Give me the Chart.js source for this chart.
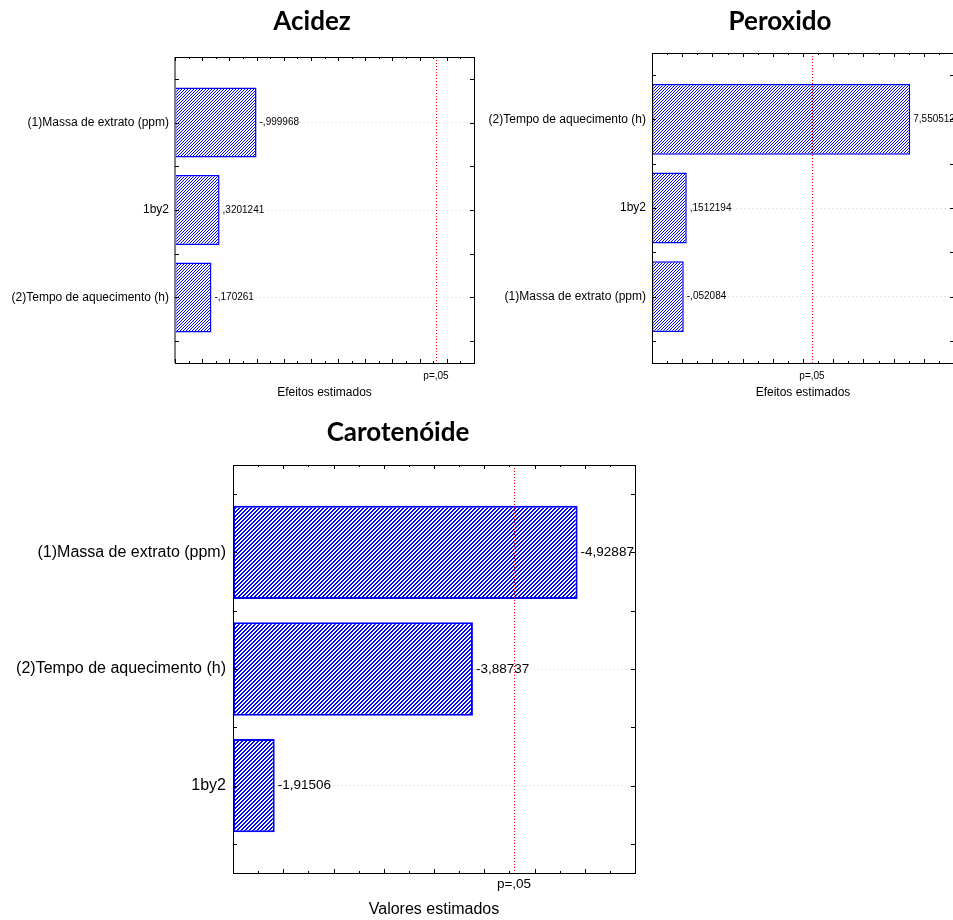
<!DOCTYPE html>
<html>
<head>
<meta charset="utf-8">
<script src="https://cdn.jsdelivr.net/npm/chart.js@4.4.1/dist/chart.umd.min.js"></script>
<style>
  html, body { margin: 0; padding: 0; background: #fff; overflow: hidden; }
  body { width: 953px; height: 920px; position: relative; }
  canvas { position: absolute; }
</style>
</head>
<body>
<canvas id="acidez" width="480" height="410" style="left:0;top:0"></canvas>
<canvas id="peroxido" width="480" height="410" style="left:480px;top:0"></canvas>
<canvas id="carot" width="953" height="510" style="left:0;top:410px"></canvas>
<script>
// Acidez
const acidezCats = ['(1)Massa de extrato (ppm)', '1by2', '(2)Tempo de aquecimento (h)'];
const acidezVals = [0.999968, 0.3201241, 0.170261];
const acidezText = ['-,999968', ',3201241', '-,170261'];
const acidezRange = [-0.5, 5];

// Peroxido
const peroxCats = ['(2)Tempo de aquecimento (h)', '1by2', '(1)Massa de extrato (ppm)'];
const peroxVals = [7.550512, 0.1512194, 0.052084];
const peroxText = ['7,550512', ',1512194', '-,052084'];
const peroxRange = [-1, 9];

// Carotenoide
const carotCats = ['(1)Massa de extrato (ppm)', '(2)Tempo de aquecimento (h)', '1by2'];
const carotVals = [4.92887, 3.88737, 1.91506];
const carotText = ['-4,92887', '-3,88737', '-1,91506'];
const carotRange = [1.5, 5.5];

// t critico p=.05
const pCrit = 4.303;

Chart.defaults.font.family = '"Liberation Sans", Arial, sans-serif';
Chart.defaults.color = '#000';

// hachura diagonal feita pixel a pixel
function hatch(n, w) {
  const c = document.createElement('canvas');
  c.width = n; c.height = n;
  const g = c.getContext('2d');
  g.fillStyle = '#fff';
  g.fillRect(0, 0, n, n);
  g.fillStyle = '#0000ff';
  for (let x = 0; x < n; x++) {
    for (let y = 0; y < n; y++) {
      if ((x + y) % n < w) g.fillRect(x, y, 1, 1);
    }
  }
  return g.createPattern(c, 'repeat');
}

const paretoPlugin = {
  id: 'pareto',
  afterDraw(chart, args, o) {
    const ctx = chart.ctx;
    const a = chart.chartArea;
    const xs = chart.scales.x, ys = chart.scales.y;
    ctx.save();

    // title
    ctx.font = 'bold 26px Lato, "Open Sans", sans-serif';
    ctx.textAlign = 'center';
    ctx.textBaseline = 'alphabetic';
    ctx.fillStyle = '#000';
    ctx.fillText(o.title, o.titleX, o.titleY);

    // p-line (pontilhada vermelha)
    const px = Math.floor(xs.getPixelForValue(pCrit));
    ctx.fillStyle = '#ff0000';
    for (let y = Math.round(a.top); y < a.bottom; y += 3) {
      ctx.fillRect(px, y, 1, 1);
    }
    ctx.fillStyle = '#000';

    // frame
    ctx.strokeStyle = '#000';
    ctx.lineWidth = 1;
    ctx.strokeRect(Math.round(a.left) + 0.5, Math.round(a.top) + 0.5,
      Math.round(a.right - a.left), Math.round(a.bottom - a.top));
    if (o.grayLeft) {
      ctx.strokeStyle = '#808080';
      ctx.lineWidth = 2;
      ctx.beginPath();
      ctx.moveTo(a.left, a.top); ctx.lineTo(a.left, a.bottom);
      ctx.stroke();
      ctx.strokeStyle = '#000';
      ctx.lineWidth = 1;
    }

    // inward ticks
    ctx.beginPath();
    const st = o.step;
    for (let k = 0; xs.min + k * st / 2 <= xs.max + 1e-9; k++) {
      const x = Math.round(xs.getPixelForValue(xs.min + k * st / 2)) + 0.5;
      const len = k % 2 === 0 ? 4 : 2;
      ctx.moveTo(x, a.bottom); ctx.lineTo(x, a.bottom - len);
      ctx.moveTo(x, a.top); ctx.lineTo(x, a.top + len);
    }
    for (let k = -1; k <= 5; k++) {
      const y = Math.round(ys.getPixelForValue(k / 2)) + 0.5;
      ctx.moveTo(a.left, y); ctx.lineTo(a.left + 4, y);
      ctx.moveTo(a.right, y); ctx.lineTo(a.right - 4, y);
    }
    ctx.stroke();

    // value labels
    const meta = chart.getDatasetMeta(0);
    ctx.font = o.valFont + 'px "Liberation Sans", Arial, sans-serif';
    ctx.textAlign = 'left';
    ctx.textBaseline = 'middle';
    meta.data.forEach((bar, i) => {
      ctx.fillText(o.texts[i], bar.x + 3, bar.y);
    });

    // p label and axis title
    ctx.textAlign = 'center';
    ctx.fillText('p=,05', px, a.bottom + o.pOff);
    ctx.font = o.axFont + 'px "Liberation Sans", Arial, sans-serif';
    ctx.fillText(o.axisTitle, (a.left + a.right) / 2, a.bottom + o.axOff);

    ctx.restore();
  }
};

function makeChart(id, cats, vals, texts, range, cfg) {
  return new Chart(document.getElementById(id), {
    type: 'bar',
    data: {
      datasets: [{
        data: vals.map((v, i) => ({ x: v, y: i })),
        base: range[0],
        backgroundColor: hatch(cfg.hn, cfg.hw),
        borderColor: '#0000ff',
        borderWidth: cfg.bw,
        borderSkipped: false,
        barPercentage: 1,
        categoryPercentage: 0.8
      }]
    },
    options: {
      indexAxis: 'y',
      responsive: false,
      animation: false,
      devicePixelRatio: 1,
      layout: { padding: cfg.padding },
      scales: {
        x: {
          type: 'linear',
          min: range[0],
          max: range[1],
          display: false
        },
        y: {
          type: 'linear',
          reverse: true,
          offset: false,
          min: -0.75,
          max: 2.75,
          bounds: 'data',
          afterFit: (s) => { s.width = cfg.yw; },
          afterBuildTicks: (s) => { s.ticks = cats.map((c, i) => ({ value: i })); },
          ticks: {
            padding: cfg.lp,
            font: { size: cfg.catFont },
            color: '#000',
            autoSkip: false,
            callback: (v) => {
              const i = Math.round(v);
              return Math.abs(v - i) < 1e-6 && cats[i] !== undefined ? cats[i] : '';
            }
          },
          grid: { color: '#e8e8e8', drawTicks: false, offset: false },
          border: { display: false, dash: [2, 2] }
        }
      },
      plugins: {
        legend: { display: false },
        tooltip: { enabled: false },
        pareto: {
          title: cfg.title, titleX: cfg.titleX, titleY: cfg.titleY,
          texts: texts, step: cfg.step, valFont: cfg.valFont,
          axFont: cfg.axFont, axisTitle: cfg.axisTitle,
          pOff: cfg.pOff, axOff: cfg.axOff, grayLeft: cfg.grayLeft
        }
      }
    },
    plugins: [paretoPlugin]
  });
}

makeChart('acidez', acidezCats, acidezVals, acidezText, acidezRange, {
  padding: { left: 0, top: 57, right: 6, bottom: 47 }, yw: 175, lp: 6,
  catFont: 12, valFont: 10, axFont: 12, hn: 3, hw: 1, bw: 1.5, step: 0.5,
  title: 'Acidez', titleX: 312, titleY: 30, axisTitle: 'Efeitos estimados',
  pOff: 13, axOff: 30, grayLeft: true
});

makeChart('peroxido', peroxCats, peroxVals, peroxText, peroxRange, {
  padding: { left: 0, top: 53, right: 6, bottom: 47 }, yw: 172, lp: 6,
  catFont: 12, valFont: 10, axFont: 12, hn: 3, hw: 1, bw: 1.5, step: 1,
  title: 'Peroxido', titleX: 300, titleY: 30, axisTitle: 'Efeitos estimados',
  pOff: 13, axOff: 30, grayLeft: false
});

makeChart('carot', carotCats, carotVals, carotText, carotRange, {
  padding: { left: 0, top: 55, right: 318, bottom: 47 }, yw: 233, lp: 7,
  catFont: 16, valFont: 13.5, axFont: 16, hn: 4, hw: 2, bw: 2, step: 0.5,
  title: 'Carotenóide', titleX: 398, titleY: 31, axisTitle: 'Valores estimados',
  pOff: 11, axOff: 37, grayLeft: false
});
</script>
</body>
</html>
